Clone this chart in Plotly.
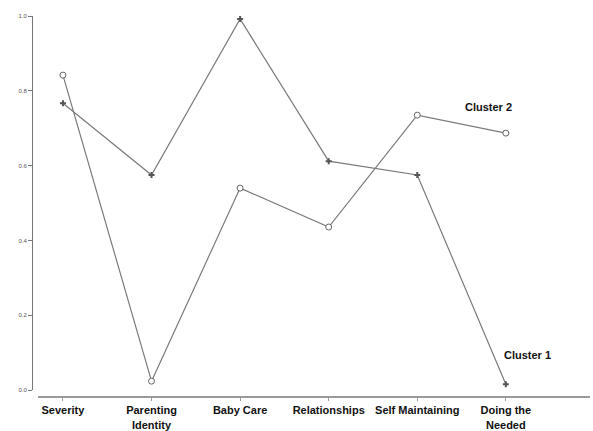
import plotly.graph_objects as go

categories = ["Severity", "Parenting<br>Identity", "Baby Care", "Relationships",
              "Self Maintaining", "Doing the<br>Needed"]
cluster1 = [0.767, 0.575, 0.992, 0.612, 0.575, 0.016]
cluster2 = [0.842, 0.024, 0.540, 0.436, 0.735, 0.687]
y_ticks = [0.0, 0.2, 0.4, 0.6, 0.8, 1.0]
y_tick_labels = ["0.0", "0.2", "0.4", "0.6", "0.8", "1.0"]

idx = list(range(len(categories)))
line_col = "#7a7a7a"
label_font = dict(family="Liberation Sans", size=11, color="#111")

fig = go.Figure()
fig.add_trace(go.Scatter(
    x=idx, y=cluster1, mode="lines+markers", name="Cluster 1",
    line=dict(color=line_col, width=1.2),
    marker=dict(symbol="cross", size=5, color="#555555"),
))
fig.add_trace(go.Scatter(
    x=idx, y=cluster2, mode="lines+markers", name="Cluster 2",
    line=dict(color=line_col, width=1.2),
    marker=dict(symbol="circle", size=6, color="white",
                line=dict(color="#666666", width=1)),
))

fig.add_annotation(x=4.52, y=0.757, xref="x", yref="y", text="<b>Cluster 2</b>",
                   showarrow=False, font=label_font,
                   xanchor="left", yanchor="middle")
fig.add_annotation(x=4.955, y=0.093, xref="x", yref="y", text="<b>Cluster 1</b>",
                   showarrow=False, font=label_font,
                   xanchor="left", yanchor="middle")

fig.update_layout(
    width=593, height=431,
    margin=dict(l=32, r=3, t=16, b=34),
    paper_bgcolor="white", plot_bgcolor="white",
    showlegend=False,
    xaxis=dict(
        domain=[0.011, 1], range=[-0.28, 5.95],
        anchor="free", position=0, automargin=False,
        tickmode="array", tickvals=idx,
        ticktext=["<b>%s</b>" % c for c in categories],
        tickfont=label_font,
        showline=True, linecolor="#9a9a9a", linewidth=2,
        ticks="outside", ticklen=3, tickcolor="#9a9a9a", tickwidth=1,
        showgrid=False, zeroline=False,
    ),
    yaxis=dict(
        domain=[0.018, 1], range=[0, 1],
        anchor="free", position=0, automargin=False,
        tickmode="array", tickvals=y_ticks, ticktext=y_tick_labels,
        tickfont=dict(family="Liberation Sans", size=6, color="#555"),
        showline=True, linecolor="#777777", linewidth=1,
        ticks="outside", ticklen=4, tickcolor="#777777",
        showgrid=False, zeroline=False,
    ),
)

fig.write_html("out.html")
